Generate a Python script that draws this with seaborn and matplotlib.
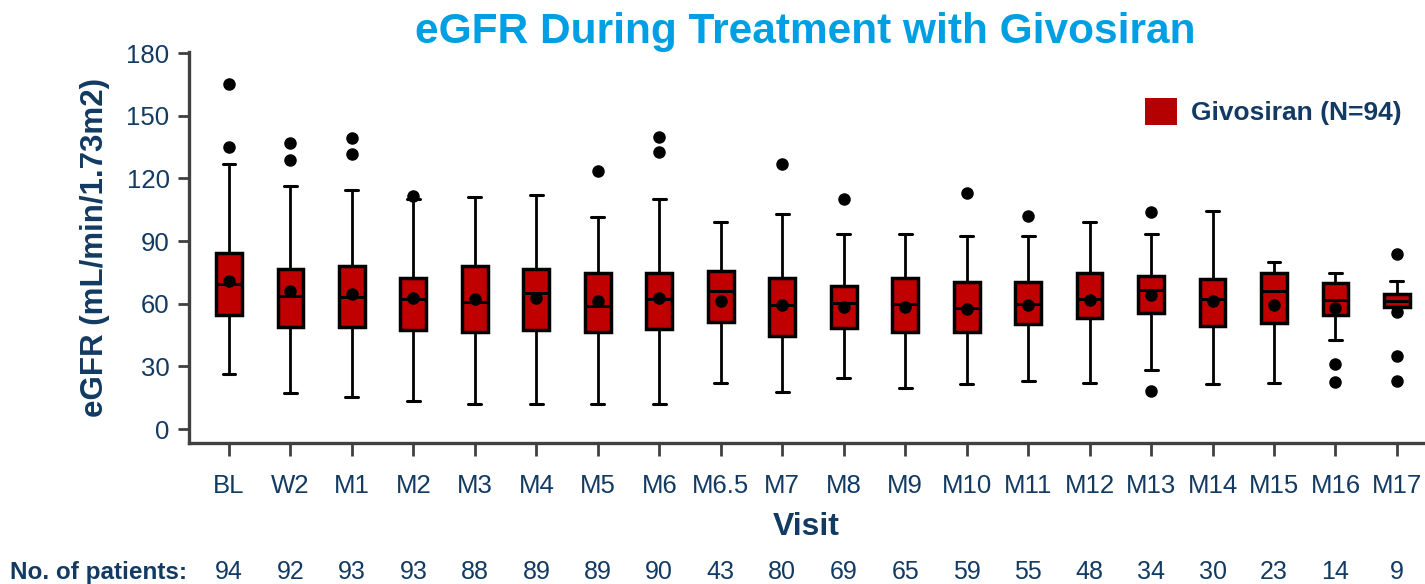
import matplotlib
matplotlib.use("Agg")
import matplotlib.pyplot as plt
import matplotlib.transforms as mtransforms
from matplotlib.patches import Patch
import seaborn as sns
import numpy as np

visits = ["BL", "W2", "M1", "M2", "M3", "M4", "M5", "M6", "M6.5", "M7", "M8", "M9",
          "M10", "M11", "M12", "M13", "M14", "M15", "M16", "M17"]
n_patients = [94, 92, 93, 93, 88, 89, 89, 90, 43, 80, 69, 65, 59, 55, 48, 34, 30, 23, 14, 9]
q1 = [54.7, 49.0, 48.7, 47.2, 46.4, 47.2, 46.4, 47.7, 51.4, 44.7, 48.3, 46.3, 46.4, 50.1,
      53.3, 55.4, 49.3, 50.7, 54.7, 58.2]
median = [69.6, 63.7, 63.0, 62.2, 60.8, 65.3, 59.0, 62.2, 65.9, 59.2, 60.3, 59.8, 58.1, 60.0,
          62.2, 66.5, 62.2, 66.2, 61.6, 61.4]
q3 = [84.4, 76.7, 78.0, 72.4, 78.2, 76.6, 74.7, 74.5, 75.7, 72.4, 68.3, 72.4, 70.5, 70.5,
      74.7, 73.2, 71.9, 74.5, 70.0, 64.5]
mean = [71.0, 65.9, 64.6, 62.5, 62.1, 62.9, 61.1, 62.9, 61.3, 59.5, 58.5, 58.5, 57.6, 59.2,
        62.0, 64.1, 61.1, 59.5, 57.8, 56.2]
whislo = [26.3, 17.1, 15.2, 13.4, 12.0, 12.0, 12.0, 12.0, 22.0, 17.7, 24.4, 19.6, 21.7, 23.1,
          21.9, 28.1, 21.4, 22.2, 42.6, 58.2]
whishi = [126.7, 116.2, 114.3, 110.2, 111.1, 111.8, 101.3, 110.1, 99.1, 102.9, 93.2, 93.2,
          92.4, 92.4, 99.1, 93.3, 104.4, 79.9, 74.5, 70.7]
outliers = [[165.0, 135.0], [137.0, 129.0], [139.2, 131.8], [111.5], [], [], [123.4],
            [139.9, 132.8], [], [127.0], [109.9], [], [113.1], [102.0], [], [103.9, 18.2],
            [], [], [31.0, 22.6], [83.9, 34.8, 22.8]]
y_ticks = [0, 30, 60, 90, 120, 150, 180]

NAVY = "#123A62"
TITLE_BLUE = "#009FE3"
BOX_RED = "#C00000"
SPINE = "#404040"

sns.set_theme(style="white")
plt.rcParams["font.family"] = ["Liberation Sans", "DejaVu Sans"]

fig = plt.figure(figsize=(14.25, 5.84), dpi=100)
ax = fig.add_axes([189 / 1425, 1 - 443 / 584, (1424 - 189) / 1425, (443 - 52) / 584])

stats = []
for i, v in enumerate(visits):
    stats.append(dict(label=v, q1=q1[i], med=median[i], q3=q3[i], mean=mean[i],
                      whislo=whislo[i], whishi=whishi[i], fliers=np.array(outliers[i])))

positions = np.arange(len(visits))
ax.bxp(stats, positions=positions, widths=0.42, patch_artist=True, showmeans=True,
       showfliers=True, capwidths=0.21,
       boxprops=dict(facecolor=BOX_RED, edgecolor="black", linewidth=2.5),
       medianprops=dict(color="black", linewidth=2.2),
       whiskerprops=dict(color="black", linewidth=2.0),
       capprops=dict(color="black", linewidth=2.2),
       meanprops=dict(marker="o", markerfacecolor="black", markeredgecolor="black",
                      markersize=8),
       flierprops=dict(marker="o", markerfacecolor="black", markeredgecolor="black",
                       markersize=8))

ax.set_xlim(-0.65, 19.44)
ax.set_ylim(-6.7, 180.5)
ax.set_yticks(y_ticks)
ax.set_xticks(positions)
ax.set_xticklabels(visits)

sns.despine(ax=ax)
for side in ["left", "bottom"]:
    ax.spines[side].set_color(SPINE)
    ax.spines[side].set_linewidth(2.4)

ax.tick_params(axis="y", direction="out", length=8, width=2.0, color=SPINE,
               labelsize=18.5, labelcolor=NAVY, pad=6, left=True)
ax.tick_params(axis="x", direction="out", length=9.5, width=2.0, color=SPINE,
               labelsize=18.5, labelcolor=NAVY, pad=13, bottom=True)

ax.set_xlabel("Visit", fontsize=23, fontweight="bold", color=NAVY, labelpad=10)
ax.set_ylabel("eGFR (mL/min/1.73m2)", fontsize=22.5, fontweight="bold", color=NAVY,
              labelpad=12)
ax.grid(False)

fig.text(805 / 1425, 1 - 32 / 584, "eGFR During Treatment with Givosiran",
         fontsize=30.5, fontweight="bold", color=TITLE_BLUE, ha="center", va="center")

trans = mtransforms.blended_transform_factory(ax.transData, fig.transFigure)
y_row = 1 - 572 / 584
for i, n in enumerate(n_patients):
    ax.text(positions[i], y_row, str(n), transform=trans, ha="center", va="center",
            fontsize=18, color=NAVY, clip_on=False)
fig.text(187 / 1425, y_row, "No. of patients:", ha="right", va="center", fontsize=17.5,
         fontweight="bold", color=NAVY)

handle = Patch(facecolor="#B40000", edgecolor="none", label="Givosiran (N=94)")
leg = fig.legend(handles=[handle], loc="upper left",
                 bbox_to_anchor=(1145 / 1425, 1 - 98 / 584), frameon=False,
                 borderpad=0, borderaxespad=0, handlelength=1.2, handleheight=1.2,
                 handletextpad=0.55, prop=dict(size=19, weight="bold"))
for t in leg.get_texts():
    t.set_color(NAVY)

fig.savefig("out.png", dpi=100)
